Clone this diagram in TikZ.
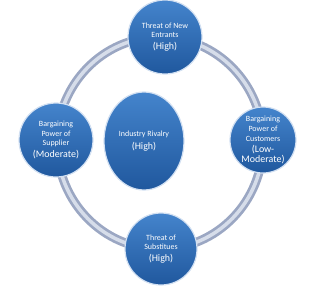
\documentclass[tikz,border=0pt]{standalone}
\usepackage{fontspec}
\setmainfont{Carlito}
\usepackage{tikz}
\usetikzlibrary{shapes.geometric}
\definecolor{forcetop}{RGB}{68,132,204}
\definecolor{forcebottom}{RGB}{32,88,158}
\definecolor{forcerim}{RGB}{210,224,242}
\definecolor{ringedge}{RGB}{155,167,195}
\definecolor{ringmid}{RGB}{214,221,234}
\newcommand{\forcelevel}[1]{{\fontsize{10}{12}\selectfont #1}}
\tikzset{
    force/.style={circle, draw=forcerim, line width=1.2bp, top color=forcetop, bottom color=forcebottom,
        text=white, align=center, inner sep=0pt, font=\fontsize{8}{9.8}\selectfont},
    rivalry/.style={ellipse, draw=forcerim, line width=1.2bp, top color=forcetop, bottom color=forcebottom,
        text=white, align=center, inner sep=0pt, font=\fontsize{8}{9.8}\selectfont},
    ring/.style={ringedge, line width=9bp},
    ringglow/.style={ringmid, line width=3.5bp},
}
\begin{document}
\begin{tikzpicture}[x=1bp,y=-1bp]
    \useasboundingbox (0,0) rectangle (320,287);

    % ring
    \coordinate (hub) at (160,143);
    \draw[ring] (hub) ellipse [x radius=103, y radius=106];
    \draw[ringglow] (hub) ellipse [x radius=103, y radius=106];

    % new entrants
    \node[force, minimum size=74bp] (entrants) at (165,37)
        {Threat of New\\Entrants\\[2pt]\forcelevel{(High)}};

    % supplier
    \node[force, minimum size=74bp] (supplier) at (56,140)
        {Bargaining\\Power of\\Supplier\\[2pt]\forcelevel{(Moderate)}};

    % customers
    \node[force, minimum size=66bp] (customers) at (263,140)
        {Bargaining\\Power of\\Customers\\[2pt]\forcelevel{(Low-}\\\forcelevel{Moderate)}};

    % substitutes
    \node[force, minimum size=72bp] (substitutes) at (161,249)
        {Threat of\\Substitues\\[2pt]\forcelevel{(High)}};

    % rivalry
    \node[rivalry, minimum width=80bp, minimum height=98bp] (rivalry) at (144,141)
        {Industry Rivalry\\[4pt]\forcelevel{(High)}};
\end{tikzpicture}
\end{document}
